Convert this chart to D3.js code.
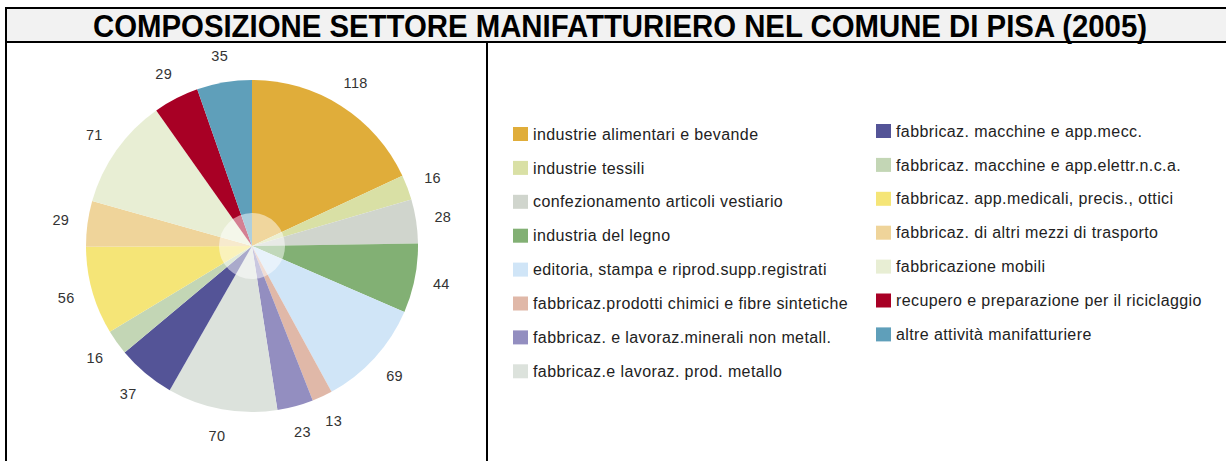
<!DOCTYPE html>
<html>
<head>
<meta charset="utf-8">
<script src="https://cdn.jsdelivr.net/npm/d3@7"></script>
<style>
    body { margin: 0; background: #fff; }
    svg { display: block; font-family: "Liberation Sans", Arial, sans-serif; }
</style>
</head>
<body>
<svg id="chart" width="1226" height="461"></svg>
<script>
// Chart data (clockwise from 12 o'clock)
const categories = [
    "industrie alimentari e bevande",
    "industrie tessili",
    "confezionamento articoli vestiario",
    "industria del legno",
    "editoria, stampa e riprod.supp.registrati",
    "fabbricaz.prodotti chimici e fibre sintetiche",
    "fabbricaz. e lavoraz.minerali non metall.",
    "fabbricaz.e lavoraz. prod. metallo",
    "fabbricaz. macchine e app.mecc.",
    "fabbricaz. macchine e app.elettr.n.c.a.",
    "fabbricaz. app.medicali, precis., ottici",
    "fabbricaz. di altri mezzi di trasporto",
    "fabbricazione mobili",
    "recupero e preparazione per il riciclaggio",
    "altre attività manifatturiere"
];
const values = [118, 16, 28, 44, 69, 13, 23, 70, 37, 16, 56, 29, 71, 29, 35];
const colors = [
    "#e0ad3a", "#d9e0a5", "#d0d5cd", "#82b074", "#d0e5f7",
    "#e0b8a8", "#938ec0", "#dce2dc", "#545497", "#c3d6b5",
    "#f5e577", "#efd49a", "#e8eed4", "#a80025", "#5f9fba"
];
const title = "COMPOSIZIONE SETTORE MANIFATTURIERO NEL COMUNE DI PISA (2005)";

const svg = d3.select("#chart");

// Title box and frame
svg.append("rect")
    .attr("x", 6).attr("y", 8)
    .attr("width", 1230).attr("height", 34)
    .attr("fill", "#f2f2f2")
    .attr("stroke", "#000")
    .attr("stroke-width", 2);

svg.append("line")
    .attr("x1", 6).attr("x2", 6)
    .attr("y1", 8).attr("y2", 461)
    .attr("stroke", "#000").attr("stroke-width", 2);

svg.append("line")
    .attr("x1", 487).attr("x2", 487)
    .attr("y1", 42).attr("y2", 461)
    .attr("stroke", "#000").attr("stroke-width", 2);

svg.append("text")
    .attr("x", 620).attr("y", 37)
    .attr("text-anchor", "middle")
    .attr("font-size", 31)
    .attr("font-weight", "bold")
    .attr("textLength", 1054)
    .attr("lengthAdjust", "spacingAndGlyphs")
    .attr("fill", "#000")
    .text(title);

// Pie
const cx = 252, cy = 246, radius = 166;
const pie = d3.pie().sort(null).value(d => d)(values);
const arc = d3.arc().innerRadius(0).outerRadius(radius);
const labelArc = d3.arc().innerRadius(193).outerRadius(193);

const g = svg.append("g").attr("transform", `translate(${cx},${cy})`);

g.selectAll("path.slice")
    .data(pie)
    .enter().append("path")
    .attr("class", "slice")
    .attr("d", arc)
    .attr("fill", (d, i) => colors[i]);

// soft highlight in the middle
g.append("circle")
    .attr("r", 33)
    .attr("fill", "#fff")
    .attr("opacity", 0.5);

g.selectAll("text.lbl")
    .data(pie)
    .enter().append("text")
    .attr("class", "lbl")
    .attr("transform", d => `translate(${labelArc.centroid(d)})`)
    .attr("text-anchor", "middle")
    .attr("dy", "0.35em")
    .attr("font-size", 14.5)
    .attr("letter-spacing", 0.3)
    .attr("fill", "#333")
    .text(d => d.data);

// Legend: two columns
const leftCount = 8;
const legend = svg.append("g");

categories.forEach((name, i) => {
    const col = i < leftCount ? 0 : 1;
    const row = col === 0 ? i : i - leftCount;
    const x = col === 0 ? 513 : 876;
    const y = (col === 0 ? 134 : 131) + row * 33.9;

    legend.append("rect")
        .attr("x", x).attr("y", y - 7)
        .attr("width", 15).attr("height", 14)
        .attr("fill", colors[i]);

    legend.append("text")
        .attr("x", x + 20).attr("y", y)
        .attr("dy", "0.35em")
        .attr("font-size", 16)
        .attr("letter-spacing", 0.4)
        .attr("fill", "#222")
        .text(name);
});
</script>
</body>
</html>
